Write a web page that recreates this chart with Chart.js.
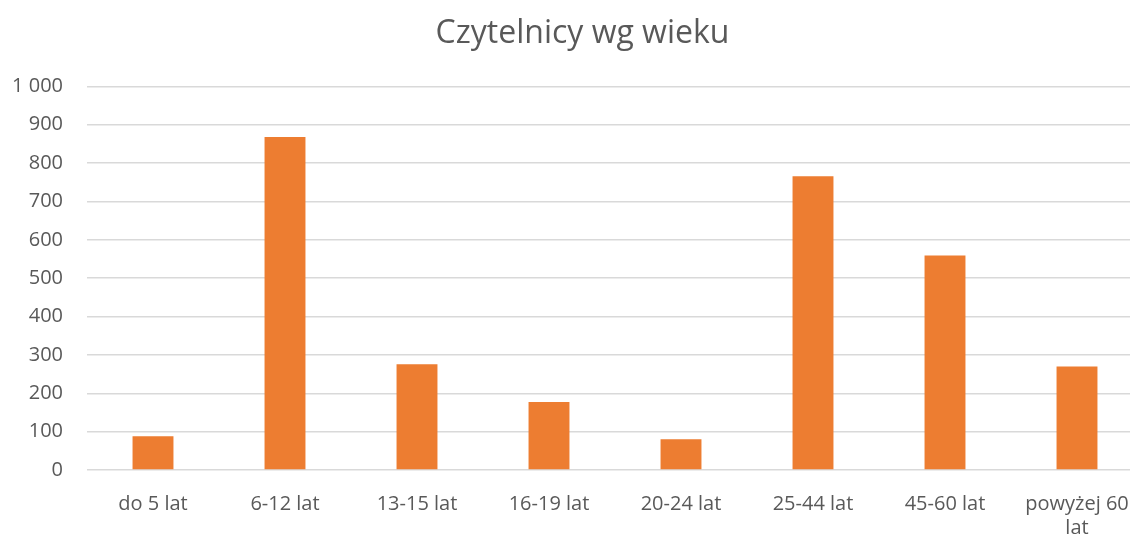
<!DOCTYPE html>
<html>
<head>
<meta charset="utf-8">
<script src="https://cdn.jsdelivr.net/npm/chart.js@4/dist/chart.umd.min.js"></script>
<style>
  html, body { margin: 0; padding: 0; background: #fff; overflow: hidden; }
  #wrap { position: relative; width: 1165px; height: 562px; }
</style>
</head>
<body>
<div id="wrap"><canvas id="chart" width="1165" height="562"></canvas></div>
<script>
    'use strict';

    var ageGroups = ['do 5 lat', '6-12 lat', '13-15 lat', '16-19 lat', '20-24 lat', '25-44 lat', '45-60 lat', ['powyżej 60', 'lat']];
    var readers = [88, 868, 276, 177, 80, 766, 559, 270];
    var titleText = 'Czytelnicy wg wieku';

    var textColor = '#595959';
    var gridColor = '#d9d9d9';
    var barColor = '#ed7d31';
    var fontFamily = '"Open Sans", "Liberation Sans", sans-serif';

    function formatThousands(value) {
        return String(value).replace(/\B(?=(\d{3})+(?!\d))/g, ' ');
    }

    new Chart(document.getElementById('chart'), {
        type: 'bar',
        data: {
            labels: ageGroups,
            datasets: [{
                label: 'Czytelnicy',
                data: readers,
                backgroundColor: barColor,
                borderWidth: 0,
                barPercentage: 0.62,
                categoryPercentage: 0.5,
            }],
        },
        options: {
            responsive: false,
            animation: false,
            layout: { padding: 0 },
            plugins: {
                legend: { display: false },
                tooltip: { enabled: false },
                title: {
                    display: true,
                    text: titleText,
                    color: textColor,
                    font: { family: fontFamily, size: 32, weight: 'normal' },
                    padding: { top: 15, bottom: 33 },
                },
            },
            scales: {
                x: {
                    grid: { display: false, drawTicks: false },
                    border: { display: false },
                    ticks: {
                        color: textColor,
                        font: { family: fontFamily, size: 20 },
                        padding: 22,
                        maxRotation: 0,
                        autoSkip: false,
                    },
                },
                y: {
                    min: 0,
                    max: 1000,
                    border: { display: false },
                    grid: { color: gridColor, lineWidth: 1.5, drawTicks: false },
                    ticks: {
                        stepSize: 100,
                        color: textColor,
                        padding: 24,
                        font: { family: fontFamily, size: 20 },
                        callback: function (value) { return formatThousands(value); },
                    },
                    afterFit: function (scale) { scale.width = 87; },
                },
                yRight: {
                    position: 'right',
                    grid: { display: false, drawTicks: false },
                    border: { display: false },
                    ticks: { display: false },
                    afterFit: function (scale) { scale.width = 22; },
                },
            },
        },
    });
</script>
</body>
</html>
